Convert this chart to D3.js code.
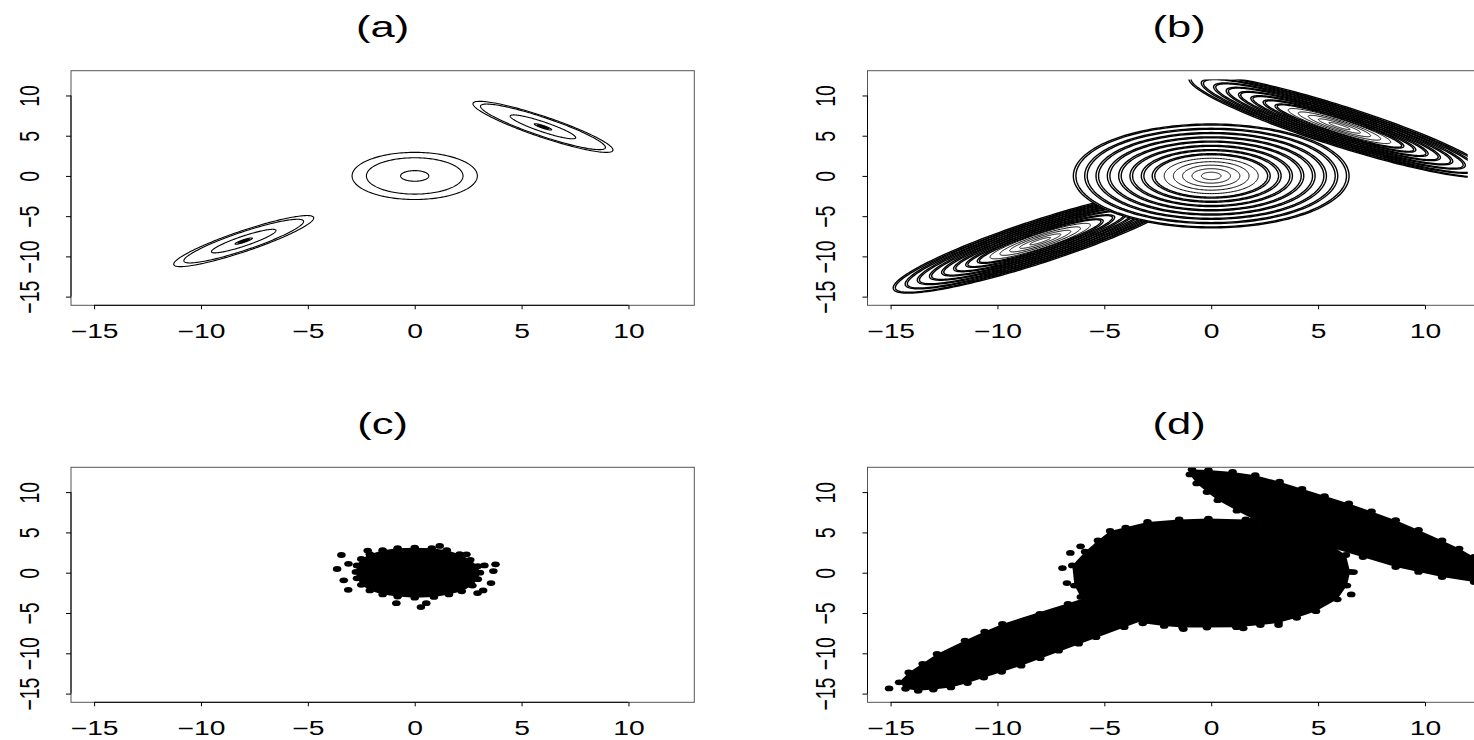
<!DOCTYPE html>
<html><head><meta charset="utf-8">
<script src="https://cdn.jsdelivr.net/npm/d3@7"></script>
<style>
body{margin:0;background:#fff}
svg{display:block}
text{font-family:"Liberation Sans",Arial,Helvetica,sans-serif;fill:#000}
</style>
</head><body>
<svg id="chart" width="1474" height="740"></svg>
<script>
// ---------------- data ----------------
const xTicks = [-15, -10, -5, 0, 5, 10];
const yTicks = [-15, -10, -5, 0, 5, 10];
const panelTitles = ["(a)", "(b)", "(c)", "(d)"];
const dataRange = [-15, 12];      // grid / data range used for both axes

// (a) contour ellipses: [semi-major, semi-minor] per contour level
const centerA = [0, 0],     angleA_center = 0;
const upperA  = [6, 6.1],   angleA_upper = -44;
const lowerA  = [-8, -8.1], angleA_lower = 44;
const ringsA_center = [[2.93, 2.93], [2.26, 2.26], [0.66, 0.66]];
const ringsA_upper  = [[4.45, 1.0], [3.97, 0.9], [2.08, 0.48], [0.55, 0.13], [0.36, 0.085], [0.2, 0.05]];
const ringsA_lower  = [[4.45, 1.0], [3.80, 0.88], [2.05, 0.48], [0.55, 0.13], [0.36, 0.085], [0.2, 0.05]];

// (b) contour ellipses
const centerB = [0, 0],     angleB_center = 0;
const upperB  = [6, 6.2],   angleB_upper = -42;
const lowerB  = [-8, -8.1], angleB_lower = 43;
const ringsB_center = [[6.45,6.45],[5.92,5.92],[5.39,5.39],[4.86,4.86],[4.33,4.33],[3.8,3.8],[3.27,3.27],[2.76,2.76],
                       [2.2,2.2],[1.77,1.77],[1.34,1.34],[0.9,0.9],[0.46,0.46]];
const ringsB_upper  = [[9.3,2.0],[8.54,1.84],[7.78,1.67],[7.0,1.51],[6.24,1.34],[5.48,1.18],[4.72,1.01],[3.98,0.86],
                       [3.17,0.68],[2.55,0.55],[1.93,0.42],[1.3,0.28],[0.66,0.14]];
const ringsB_lower  = [[9.2,2.1],[8.45,1.93],[7.69,1.76],[6.93,1.58],[6.17,1.41],[5.42,1.24],[4.66,1.06],[3.94,0.9],
                       [3.14,0.72],[2.52,0.58],[1.91,0.44],[1.29,0.29],[0.65,0.15]];
const thickRingsB = 8;   // the outer, densely packed contour levels

// (c) sample: points on the edge of the dense cloud, and isolated points
const edgeC = [[-2.5,1.7],[-2.7,0.9],[-2.75,0.1],[-2.7,-0.7],[-2.5,-1.5],[-2.1,-2.2],[-1.5,-2.7],[-0.8,-2.95],[0,-3.1],
  [0.9,-3.0],[1.6,-2.7],[2.2,-2.3],[2.7,-1.6],[2.95,-0.8],[3.05,0],[2.95,0.8],[2.6,1.6],[2.1,2.3],[1.5,2.8],[0.8,3.05],
  [0,3.1],[-0.8,3.05],[-1.5,2.8],[-2.1,2.3]];
const outlierC = [[-3.43,2.2],[-3.63,0.46],[3.78,1.04],[3.68,0.2],[3.57,-1.29],[-0.86,-3.78],[0.29,-4.27],[0.54,-3.78],
  [-3.11,-2.12],[2.94,-2.53],[2.42,2.28],[-3.32,-0.95],[3.26,0.91],[-3.1,1.1],[3.2,-2.2],[1.17,3.32],[-2.2,2.75]];

// (d) sample: edge points of the three clouds, and isolated points
const edgeD_center = [[-6.5,0.9],[-6.4,-1.6],[-6.1,-3.0],[-5.9,2.6],[-5.3,4.0],[-4.73,5.19],[-4.0,5.6],[-2.98,6.3],[-1.5,6.6],
  [-0.13,6.72],[1.62,6.6],[2.6,6.3],[3.8,5.6],[5.6,3.4],[6.3,2.2],[6.5,0.1],[6.35,-1.6],[5.9,-3.3],[4.9,-4.77],[4.0,-5.6],
  [3.15,-6.22],[2.3,-6.5],[1.18,-6.76],[-0.2,-6.8],[-1.34,-6.8],[-2.2,-6.6],[-3.2,-6.27],[-4.5,-5.4],[-5.5,-4.0]];
const outlierD_center = [[-6.96,0.58],[-6.75,-1.29],[-6.59,2.45],[-6.11,3.28],[6.55,-2.7],[6.66,0.08],[3.15,-6.5],[-1.3,-7.0],[1.5,-6.9]];
const edgeD_upper = [[-0.9,12.8],[-0.13,12.74],[1.0,12.5],[2.06,12.1],[3.2,11.3],[4.25,10.4],[5.3,9.5],[6.44,8.59],[7.5,7.6],
  [8.63,6.51],[9.7,5.3],[10.8,4.0],[11.6,3.0],[12.3,1.95],[12.5,0],[12.3,-1.16],[10.8,-0.54],[9.7,0.1],[8.63,0.7],[7.1,1.95],
  [5.5,3.2],[3.5,5.0],[2.0,6.6],[1.2,7.7],[0.31,9.0],[-0.2,10.0],[-0.68,11.08],[-1.0,12.2]];
const edgeD_lower = [[-14.6,-13.6],[-14.15,-12.37],[-13.5,-11.3],[-12.83,-10.08],[-11.52,-8.42],[-10.6,-7.3],[-9.77,-6.35],
  [-8.02,-5.1],[-6.7,-3.86],[-5.5,-2.8],[-3.5,-2.0],[-2.5,-3.5],[-3.2,-5.93],[-4.07,-6.76],[-5.39,-8.0],[-6.2,-8.8],[-7.14,-9.67],
  [-8.0,-10.6],[-8.89,-11.54],[-9.8,-12.3],[-10.64,-13.0],[-11.4,-13.7],[-12.18,-14.23],[-13.0,-14.5],[-13.71,-14.65],[-14.3,-14.4]];
const outlierD_lower = [[-15.07,-14.36]];

// ---------------- layout ----------------
const svg = d3.select("#chart");
const cols = [{l: 71, r: 694.3}, {l: 867.5, r: 1490.8}];
const rows = [{t: 70.7, b: 305.3}, {t: 467.3, b: 702.3}];
const pad = 0.04 * (dataRange[1] - dataRange[0]);
const dom = [dataRange[0] - pad, dataRange[1] + pad];
const SX = 1.45;          // horizontal stretch of the original raster
const BAND = 0.12;        // gap of the doubled dense contour lines (data units)
const DOT_RX = 4.3, DOT_RY = 2.9;
const deg = Math.PI / 180;

function ellipsePts(c, ab, angDeg) {
  const t = angDeg * deg, pts = [];
  for (let k = 0; k <= 180; k++) {
    const th = 2 * Math.PI * k / 180;
    const u = ab[0] * Math.cos(th), v = ab[1] * Math.sin(th);
    pts.push([c[0] + u * Math.cos(t) - v * Math.sin(t), c[1] + u * Math.sin(t) + v * Math.cos(t)]);
  }
  return pts;
}

function makePanel(idx) {
  const col = cols[idx % 2], row = rows[Math.floor(idx / 2)];
  const x = d3.scaleLinear().domain(dom).range([col.l, col.r]);
  const y = d3.scaleLinear().domain(dom).range([row.b, row.t]);
  const g = svg.append("g");
  const clipId = "clip" + idx;
  svg.append("clipPath").attr("id", clipId).append("rect")
    .attr("x", col.l).attr("y", row.t).attr("width", col.r - col.l).attr("height", row.b - row.t);
  const gridClip = "grid" + idx;
  svg.append("clipPath").attr("id", gridClip).append("rect")
    .attr("x", x(dataRange[0])).attr("y", y(dataRange[1]))
    .attr("width", x(dataRange[1]) - x(dataRange[0])).attr("height", y(dataRange[0]) - y(dataRange[1]));
  const plot = g.append("g").attr("clip-path", `url(#${clipId})`);
  const line = d3.line().x(d => x(d[0])).y(d => y(d[1]));

  g.append("rect").attr("x", col.l).attr("y", row.t).attr("width", col.r - col.l).attr("height", row.b - row.t)
    .attr("fill", "none").attr("stroke", "#555").attr("stroke-width", 1);

  const xa = g.append("g").attr("transform", `translate(0,${row.b})`)
    .call(d3.axisBottom(x).tickValues(xTicks).tickSize(4).tickSizeOuter(0));
  xa.select(".domain").remove();
  xa.append("line").attr("x1", x(xTicks[0])).attr("x2", x(xTicks[xTicks.length - 1])).attr("stroke", "#000");
  xa.selectAll(".tick line").attr("stroke", "#000");
  xa.selectAll(".tick text").attr("y", 0).attr("dy", 0)
    .attr("transform", `translate(0,33) scale(${SX},1)`)
    .attr("font-size", 19.5).attr("font-family", null).attr("text-anchor", "middle");

  const ya = g.append("g").attr("transform", `translate(${col.l},0)`)
    .call(d3.axisLeft(y).tickValues(yTicks).tickSize(5).tickSizeOuter(0));
  ya.select(".domain").remove();
  ya.append("line").attr("y1", y(yTicks[0])).attr("y2", y(yTicks[yTicks.length - 1])).attr("stroke", "#000");
  ya.selectAll(".tick line").attr("stroke", "#000");
  ya.selectAll(".tick text").attr("x", 0).attr("dy", 0)
    .attr("transform", `translate(-32.3,0) scale(${SX},1) rotate(-90)`)
    .attr("font-size", 19.5).attr("font-family", null).attr("text-anchor", "middle");

  g.append("text").attr("transform", `translate(${(col.l + col.r) / 2},${row.t - 33.7}) scale(${SX},1)`)
    .attr("text-anchor", "middle").attr("font-size", 30).text(panelTitles[idx]);

  return {x, y, plot, line, gridClip};
}

function drawDots(P, pts) {
  P.plot.append("g").selectAll("ellipse").data(pts).enter().append("ellipse")
    .attr("cx", d => P.x(d[0])).attr("cy", d => P.y(d[1])).attr("rx", DOT_RX).attr("ry", DOT_RY).attr("fill", "#000");
}
function drawCloud(P, edge) {
  P.plot.append("path").attr("d", P.line(d3.polygonHull(edge)) + "Z").attr("fill", "#000");
  drawDots(P, edge);
}

// ---- (a)
{
  const P = makePanel(0);
  const comps = [[centerA, angleA_center, ringsA_center], [upperA, angleA_upper, ringsA_upper], [lowerA, angleA_lower, ringsA_lower]];
  comps.forEach(([c, ang, rings]) => {
    P.plot.append("g").selectAll("path").data(rings).enter().append("path")
      .attr("d", r => P.line(ellipsePts(c, r, ang)))
      .attr("fill", "none").attr("stroke", "#000").attr("stroke-width", 1.1);
  });
}
// ---- (b)
{
  const P = makePanel(1);
  const gg = P.plot.append("g").attr("clip-path", `url(#${P.gridClip})`);
  const comps = [[lowerB, angleB_lower, ringsB_lower], [centerB, angleB_center, ringsB_center], [upperB, angleB_upper, ringsB_upper]];
  comps.forEach(([c, ang, rings]) => {
    const cg = gg.append("g");
    cg.append("path").attr("d", P.line(ellipsePts(c, rings[0], ang))).attr("fill", "#fff").attr("stroke", "none");
    rings.forEach((r, i) => {
      cg.append("path").attr("d", P.line(ellipsePts(c, r, ang)))
        .attr("fill", "none").attr("stroke", "#000").attr("stroke-width", i < thickRingsB ? 1.4 : 1.0);
      if (i < thickRingsB) {
        cg.append("path").attr("d", P.line(ellipsePts(c, [r[0] - BAND, r[1] - BAND], ang)))
          .attr("fill", "none").attr("stroke", "#000").attr("stroke-width", 1.4);
      }
    });
  });
}
// ---- (c)
{
  const P = makePanel(2);
  drawCloud(P, edgeC);
  drawDots(P, outlierC);
}
// ---- (d)
{
  const P = makePanel(3);
  drawCloud(P, edgeD_lower);
  drawCloud(P, edgeD_center);
  drawCloud(P, edgeD_upper);
  drawDots(P, outlierD_center.concat(outlierD_lower));
}
</script>
</body></html>
